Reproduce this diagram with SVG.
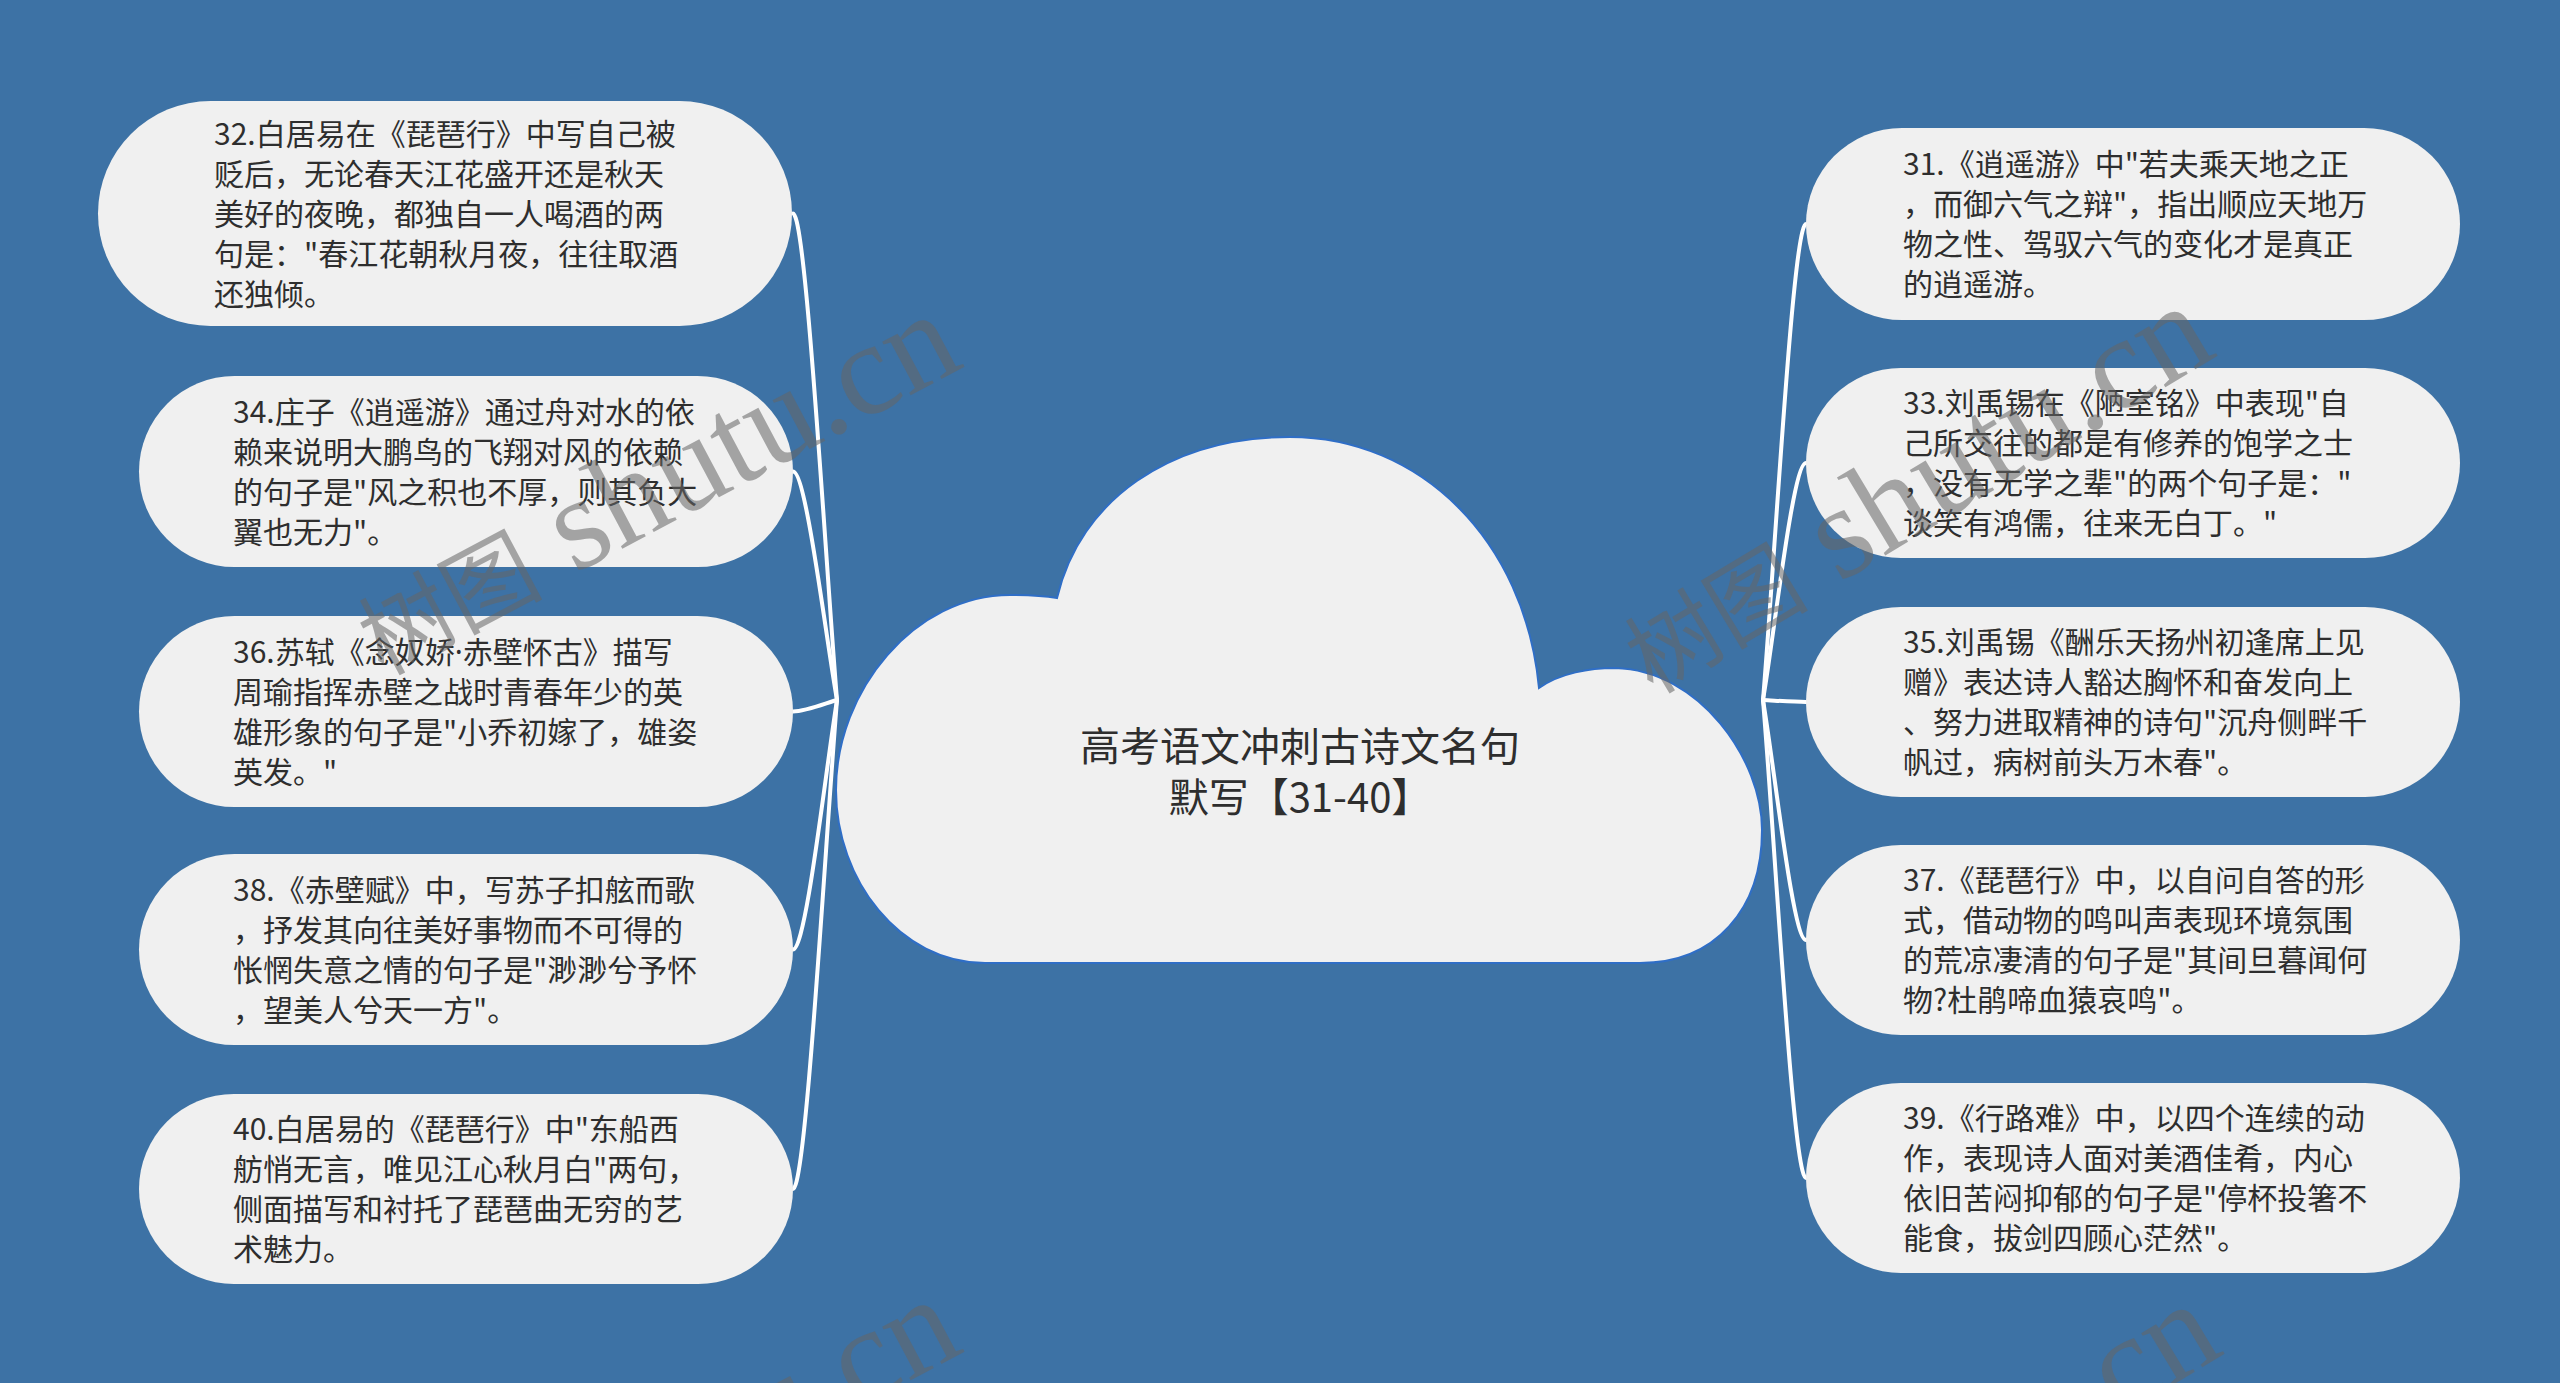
<svg xmlns="http://www.w3.org/2000/svg" width="2560" height="1383" viewBox="0 0 2560 1383">
<style>
.bg{fill:#3d72a5}
.node{fill:#f0f0f0}
.t{font-family:"Noto Sans CJK SC","Noto Sans",sans-serif;font-size:30px;fill:#2e2e2e}
.title{font-family:"Noto Sans CJK SC","Noto Sans",sans-serif;font-size:40px;fill:#2e2e2e;text-anchor:middle}
.conn{fill:none;stroke:#ffffff;stroke-width:4;stroke-linecap:round}
.wm{font-family:"Liberation Serif","Noto Sans CJK SC",serif;font-size:132px;fill:#666666;opacity:0.55}
.wmc{font-family:"Noto Sans CJK SC",sans-serif;font-size:92px}
.dot{font-family:"Noto Sans",sans-serif}
</style>
<rect class="bg" x="0" y="0" width="2560" height="1383"/>

<g id="connectors">
<path class="conn" d="M793 213.5 C806 213.5,825 554,837 700"/>
<path class="conn" d="M793 471.5 C806 471.5,825 631.5,837 700"/>
<path class="conn" d="M793 711.5 C806 711.5,825 703.5,837 700"/>
<path class="conn" d="M793 949.5 C806 949.5,825 775,837 700"/>
<path class="conn" d="M793 1189 C806 1189,825 847,837 700"/>
<path class="conn" d="M1806 224 C1793 224,1775 557,1763 700"/>
<path class="conn" d="M1806 463 C1793 463,1775 629,1763 700"/>
<path class="conn" d="M1806 702 C1793 702,1775 700.6,1763 700"/>
<path class="conn" d="M1806 940 C1793 940,1775 772,1763 700"/>
<path class="conn" d="M1806 1178 C1793 1178,1775 843,1763 700"/>
</g>

<g id="center">
<path d="M1057 598 C1080 500,1170 437,1290 437 C1420 437,1525 540,1539 688 C1560 673,1590 668,1615 668 C1700 670,1762 760,1762 830 C1762 910,1715 963,1640 963 L985 963 C900 963,836 880,836 790 C836 690,915 595,1010 595 C1030 595,1045 596,1057 598 Z" fill="#f0f0f0" stroke="#2f6ec6" stroke-width="2"/>
<text class="title" x="1300" y="761">高考语文冲刺古诗文名句</text>
<text class="title" x="1300" y="812">默写【31-40】</text>
</g>

<g id="n32">
<rect class="node" x="98" y="101" width="694" height="225" rx="112.5"/>
<text class="t" x="214" y="144.5">32.白居易在《琵琶行》中写自己被</text>
<text class="t" x="214" y="184.5">贬后，无论春天江花盛开还是秋天</text>
<text class="t" x="214" y="224.5">美好的夜晚，都独自一人喝酒的两</text>
<text class="t" x="214" y="264.5">句是："春江花朝秋月夜，往往取酒</text>
<text class="t" x="214" y="304.5">还独倾。</text>
</g>

<g id="n34">
<rect class="node" x="139" y="376" width="654" height="191" rx="95.5"/>
<text class="t" x="233" y="422.5">34.庄子《逍遥游》通过舟对水的依</text>
<text class="t" x="233" y="462.5">赖来说明大鹏鸟的飞翔对风的依赖</text>
<text class="t" x="233" y="502.5">的句子是"风之积也不厚，则其负大</text>
<text class="t" x="233" y="542.5">翼也无力"。</text>
</g>

<g id="n36">
<rect class="node" x="139" y="616" width="654" height="191" rx="95.5"/>
<text class="t" x="233" y="662.5">36.苏轼《念奴娇<tspan class="dot">·</tspan>赤壁怀古》描写</text>
<text class="t" x="233" y="702.5">周瑜指挥赤壁之战时青春年少的英</text>
<text class="t" x="233" y="742.5">雄形象的句子是"小乔初嫁了，雄姿</text>
<text class="t" x="233" y="782.5">英发。"</text>
</g>

<g id="n38">
<rect class="node" x="139" y="854" width="654" height="191" rx="95.5"/>
<text class="t" x="233" y="900.5">38.《赤壁赋》中，写苏子扣舷而歌</text>
<text class="t" x="233" y="940.5">，抒发其向往美好事物而不可得的</text>
<text class="t" x="233" y="980.5">怅惘失意之情的句子是"渺渺兮予怀</text>
<text class="t" x="233" y="1020.5">，望美人兮天一方"。</text>
</g>

<g id="n40">
<rect class="node" x="139" y="1094" width="654" height="190" rx="95"/>
<text class="t" x="233" y="1140">40.白居易的《琵琶行》中"东船西</text>
<text class="t" x="233" y="1180">舫悄无言，唯见江心秋月白"两句，</text>
<text class="t" x="233" y="1220">侧面描写和衬托了琵琶曲无穷的艺</text>
<text class="t" x="233" y="1260">术魅力。</text>
</g>

<g id="n31">
<rect class="node" x="1806" y="128" width="654" height="192" rx="96"/>
<text class="t" x="1903" y="175">31.《逍遥游》中"若夫乘天地之正</text>
<text class="t" x="1903" y="215">，而御六气之辩"，指出顺应天地万</text>
<text class="t" x="1903" y="255">物之性、驾驭六气的变化才是真正</text>
<text class="t" x="1903" y="295">的逍遥游。</text>
</g>

<g id="n33">
<rect class="node" x="1806" y="368" width="654" height="190" rx="95"/>
<text class="t" x="1903" y="414">33.刘禹锡在《陋室铭》中表现"自</text>
<text class="t" x="1903" y="454">己所交往的都是有修养的饱学之士</text>
<text class="t" x="1903" y="494">，没有无学之辈"的两个句子是："</text>
<text class="t" x="1903" y="534">谈笑有鸿儒，往来无白丁。"</text>
</g>

<g id="n35">
<rect class="node" x="1806" y="607" width="654" height="190" rx="95"/>
<text class="t" x="1903" y="653">35.刘禹锡《酬乐天扬州初逢席上见</text>
<text class="t" x="1903" y="693">赠》表达诗人豁达胸怀和奋发向上</text>
<text class="t" x="1903" y="733">、努力进取精神的诗句"沉舟侧畔千</text>
<text class="t" x="1903" y="773">帆过，病树前头万木春"。</text>
</g>

<g id="n37">
<rect class="node" x="1806" y="845" width="654" height="190" rx="95"/>
<text class="t" x="1903" y="891">37.《琵琶行》中，以自问自答的形</text>
<text class="t" x="1903" y="931">式，借动物的鸣叫声表现环境氛围</text>
<text class="t" x="1903" y="971">的荒凉凄清的句子是"其间旦暮闻何</text>
<text class="t" x="1903" y="1011">物?杜鹃啼血猿哀鸣"。</text>
</g>

<g id="n39">
<rect class="node" x="1806" y="1083" width="654" height="190" rx="95"/>
<text class="t" x="1903" y="1129">39.《行路难》中，以四个连续的动</text>
<text class="t" x="1903" y="1169">作，表现诗人面对美酒佳肴，内心</text>
<text class="t" x="1903" y="1209">依旧苦闷抑郁的句子是"停杯投箸不</text>
<text class="t" x="1903" y="1249">能食，拔剑四顾心茫然"。</text>
</g>

<g id="watermarks">
<text class="wm" x="383" y="676" transform="rotate(-28 383 676)"><tspan class="wmc">树图</tspan> shutu.cn</text>
<text class="wm" x="1653" y="695" transform="rotate(-31 1653 695)"><tspan class="wmc">树图</tspan> shutu.cn</text>
<text class="wm" x="383" y="1661" transform="rotate(-28 383 1661)"><tspan class="wmc">树图</tspan> shutu.cn</text>
<text class="wm" x="1660" y="1693" transform="rotate(-31 1660 1693)"><tspan class="wmc">树图</tspan> shutu.cn</text>
</g>
</svg>
